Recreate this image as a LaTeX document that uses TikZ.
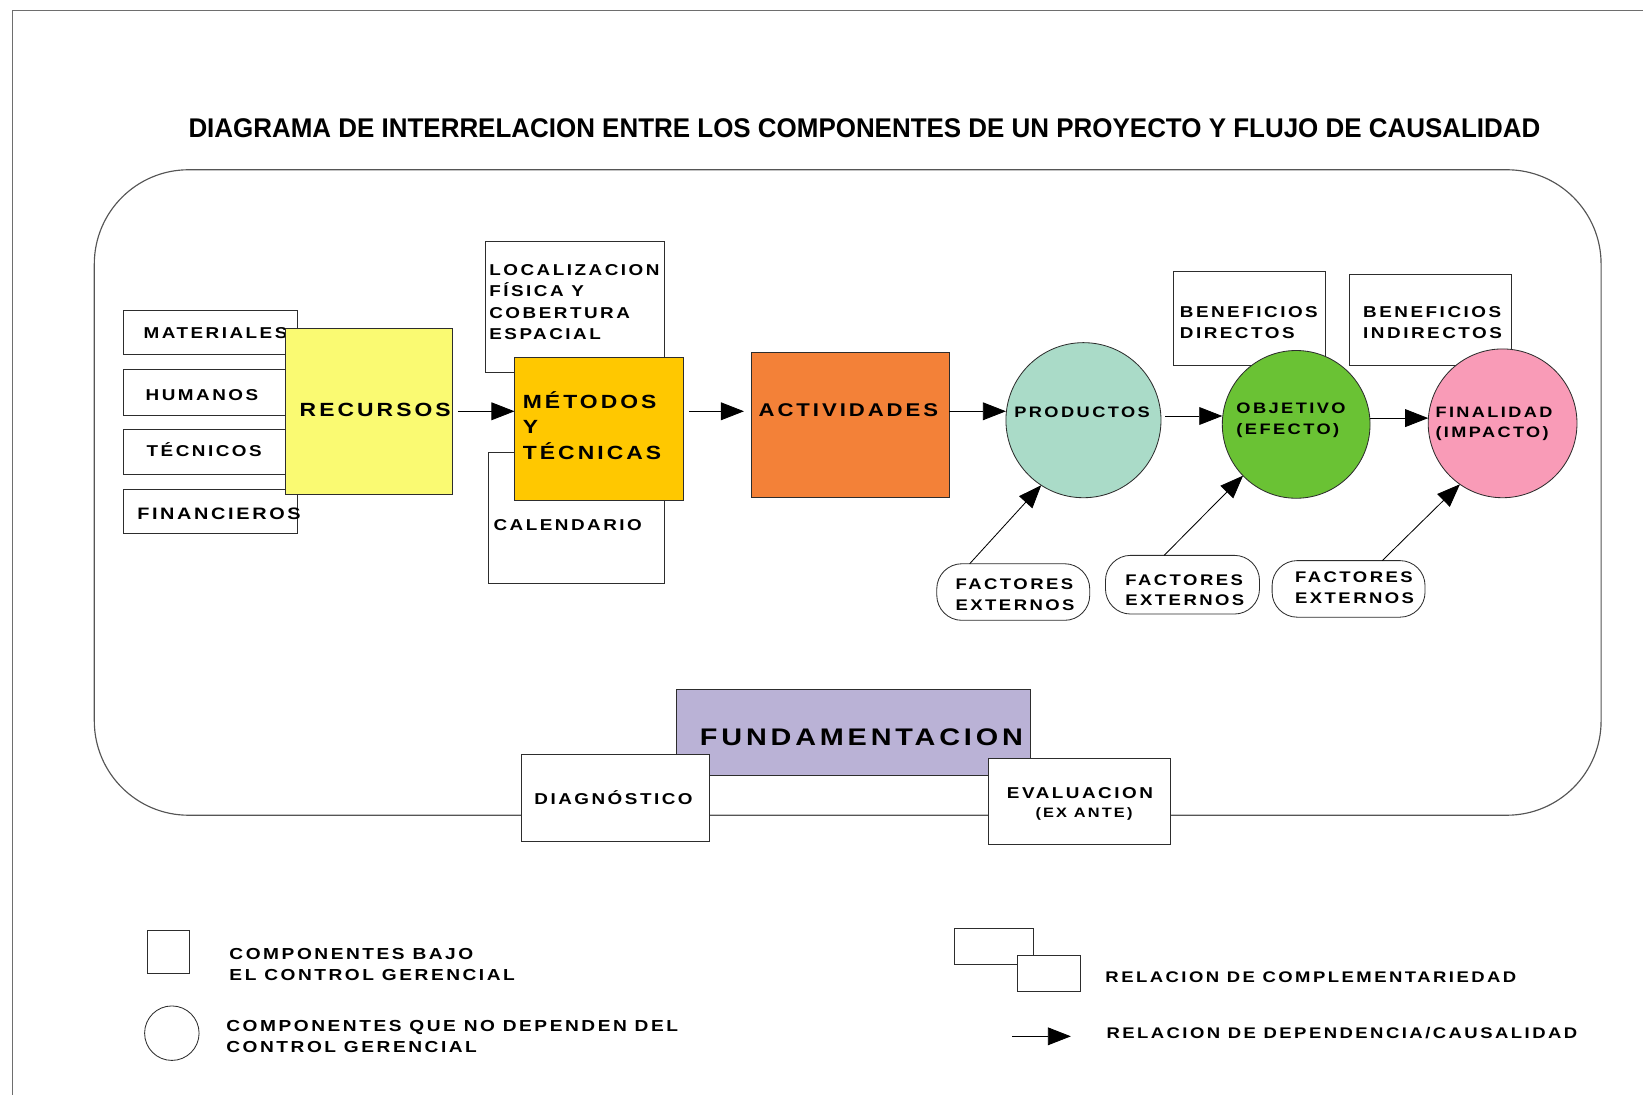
\documentclass[tikz,border=0pt]{standalone}
\usepackage{fontspec}
\usetikzlibrary{arrows.meta,calc}
\newfontfamily\widefont[LetterSpace=16,FakeStretch=1.2]{Liberation Sans}
\newfontfamily\titlefont{Liberation Sans}
\definecolor{edge}{RGB}{45,45,45}
\definecolor{framec}{RGB}{85,85,85}
\definecolor{pagec}{RGB}{110,110,110}
\definecolor{recC}{RGB}{250,250,114}
\definecolor{metC}{RGB}{255,200,0}
\definecolor{actC}{RGB}{243,129,56}
\definecolor{prodC}{RGB}{170,219,200}
\definecolor{objC}{RGB}{106,194,52}
\definecolor{finC}{RGB}{249,155,183}
\definecolor{fundC}{RGB}{186,178,214}
\begin{document}
\begin{tikzpicture}[x=1pt,y=-1pt,
  box/.style={rectangle,draw=edge,line width=0.8pt,fill=white,inner sep=0pt,outer sep=0pt},
  wh/.style 2 args={minimum width=#1pt,minimum height=#2pt},
  orb/.style={circle,draw=edge,line width=0.8pt,inner sep=0pt,outer sep=0pt,minimum size=#1pt},
  pill/.style={box,rounded corners=24pt},
  txt/.style={inner sep=0pt,outer sep=0pt,anchor=base west,align=left,
    font=\widefont\bfseries\fontsize{15}{20.5}\selectfont},
  big/.style={txt,font=\widefont\bfseries\fontsize{18.2}{24.5}\selectfont},
  keytxt/.style={txt,font=\widefont\bfseries\fontsize{15.2}{19.5}\selectfont},
  arr/.style={draw=black,line width=0.8pt,-{Triangle[length=22pt,width=17pt]}},
]
\useasboundingbox (0,0) rectangle (1568,1045);

% page edges
\draw[pagec,line width=1.2pt] (12,1045) -- (12,10) -- (1568,10);

% heading
\node[inner sep=0pt] (title) at (825,122)
  {\resizebox{1290pt}{18pt}{\titlefont\bfseries DIAGRAMA DE INTERRELACION ENTRE LOS COMPONENTES DE UN PROYECTO Y FLUJO DE CAUSALIDAD}};

% project frame
\draw[framec,line width=1.1pt,rounded corners=90pt] (90,162) rectangle (1528,778);

% kinds of resources
\node[box,wh={166}{42}] (mat) at (201,317) {};
\node[txt] (matT) at (137,323) {MATERIALES};
\node[box,wh={166}{43}] (hum) at (201,374.5) {};
\node[txt] (humT) at (139,382) {HUMANOS};
\node[box,wh={166}{43}] (tec) at (201,431.5) {};
\node[txt] (tecT) at (140,435.5) {TÉCNICOS};
\node[box,wh={166}{42}] (fin) at (201,488) {};
\node[txt,font=\widefont\bfseries\fontsize{15.8}{20}\selectfont] (finT) at (131,495.7) {FINANCIEROS};

\node[box,fill=recC,wh={160}{159}] (rec) at (352,392.5) {};
\node[big] (recT) at (286,397.5) {RECURSOS};

% methods and their complements
\node[box,wh={171}{125}] (loc) at (548.5,292.5) {};
\node[txt] (locT) at (467,324.4) {LOCALIZACION\\FÍSICA Y\\COBERTURA\\ESPACIAL};
\node[box,wh={168}{125}] (cal) at (550,494.5) {};
\node[txt] (calT) at (471,506.5) {CALENDARIO};
\node[box,fill=metC,wh={161}{137}] (met) at (571.5,409.5) {};
\node[big] (metT) at (499,438.5) {MÉTODOS\\Y\\TÉCNICAS};

\node[box,fill=actC,wh={189}{139}] (act) at (811.5,405.5) {};
\node[big,font=\widefont\bfseries\fontsize{17.6}{22}\selectfont] (actT) at (724,397.3) {ACTIVIDADES};

% benefits
\node[box,wh={145}{90}] (bd) at (1192.5,304) {};
\node[txt] (bdT) at (1126,323.5) {BENEFICIOS\\DIRECTOS};
\node[box,wh={154}{87}] (bi) at (1365,305.5) {};
\node[txt] (biT) at (1301,323.5) {BENEFICIOS\\INDIRECTOS};

% results outside managerial control
\node[orb=148,fill=prodC] (prod) at (1034,401) {};
\node[txt,font=\widefont\bfseries\fontsize{14.5}{20}\selectfont] (prodT) at (968,398.2) {PRODUCTOS};
\node[orb=141,fill=objC] (obj) at (1237,405) {};
\node[txt,font=\widefont\bfseries\fontsize{14.5}{20}\selectfont] (objT) at (1180,414.2) {OBJETIVO\\(EFECTO)};
\node[orb=142,fill=finC] (fnl) at (1434,404) {};
\node[txt,font=\widefont\bfseries\fontsize{14.4}{19}\selectfont] (fnlT) at (1370,417.2) {FINALIDAD\\(IMPACTO)};

% external factors
\node[pill,wh={146}{54}] (f1) at (967,565) {};
\node[txt,font=\widefont\bfseries\fontsize{14.7}{20}\selectfont] (f1T) at (912,582.3) {FACTORES\\EXTERNOS};
\node[pill,wh={147}{56}] (f2) at (1128.5,558) {};
\node[txt,font=\widefont\bfseries\fontsize{14.7}{19.5}\selectfont] (f2T) at (1074,578.3) {FACTORES\\EXTERNOS};
\node[pill,wh={146}{54}] (f3) at (1287,562) {};
\node[txt,font=\widefont\bfseries\fontsize{14.7}{20}\selectfont] (f3T) at (1236,576.3) {FACTORES\\EXTERNOS};

% causal flow
\draw[arr,shorten <=5pt] (rec.east) -- (rec.east -| met.west);
\draw[arr,shorten <=6pt,shorten >=7pt] (met.east |- rec.east) -- (act.west |- rec.east);
\draw[arr] (act.east |- rec.east) -- (prod.west |- rec.east);
\draw[arr,shorten <=4pt] ($(prod.east)+(0,-4)$) -- ($(obj.west)+(0,-8)$);
\draw[arr] ($(obj.east)+(0,-6)$) -- ($(fnl.west)+(0,-5)$);
\draw[arr] (f1.147) -- (prod.237);
\draw[arr] (f2.122) -- (obj.224);
\draw[arr] (f3.40) -- (fnl.235);

% groundwork
\node[box,fill=fundC,wh={337}{82}] (fund) at (814.5,699) {};
\node[txt,font=\widefont\bfseries\fontsize{22.9}{26}\selectfont] (fundT) at (668,711.2) {FUNDAMENTACION};
\node[box,wh={179}{83}] (diag) at (587.5,761.5) {};
\node[txt] (diagT) at (510,767.4) {DIAGNÓSTICO};
\node[box,wh={174}{82}] (eval) at (1030,765) {};
\node[txt] (evalT) at (961,762.4) {EVALUACION};
\node[txt,anchor=base,font=\widefont\bfseries\fontsize{13}{16}\selectfont] (evalT2) at (1034.5,780.6) {(EX ANTE)};

% key
\node[box,wh={40}{41}] (kSq) at (161,908.5) {};
\node[keytxt] (kSqT) at (219,935.4) {COMPONENTES BAJO\\EL CONTROL GERENCIAL};
\node[orb=52,fill=white] (kCi) at (164,986) {};
\node[keytxt,font=\widefont\bfseries\fontsize{15.2}{20}\selectfont] (kCiT) at (216,1004.4) {COMPONENTES QUE NO DEPENDEN DEL\\CONTROL GERENCIAL};
\node[box,wh={75}{34}] (kR1) at (948.5,903) {};
\node[box,wh={60}{34}] (kR2) at (1001,929) {};
\node[txt,font=\widefont\bfseries\fontsize{14.7}{19}\selectfont] (kRT) at (1055,937.3) {RELACION DE COMPLEMENTARIEDAD};
\coordinate (kA) at (966,989);
\coordinate (kB) at (1022,989);
\draw[arr] (kA) -- (kB);
\node[txt,font=\widefont\bfseries\fontsize{14.7}{19}\selectfont] (kAT) at (1056,991.3) {RELACION DE DEPENDENCIA/CAUSALIDAD};
\end{tikzpicture}
\end{document}
